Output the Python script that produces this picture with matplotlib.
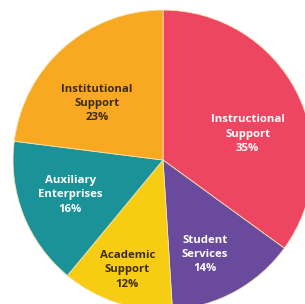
import numpy as np
import matplotlib.pyplot as plt

# Daten
labels = ["Instructional\nSupport", "Student\nServices", "Academic\nSupport",
          "Auxiliary\nEnterprises", "Institutional\nSupport"]
shares = [35, 14, 12, 16, 23]
colors = ["#EE4662", "#6A4A9C", "#F6CD12", "#1B9298", "#F8A821"]
text_colors = ["white", "white", "#3d2b0c", "white", "#3d2b0c"]

# Label-Positionen (Radius, Winkelversatz in Grad) relativ zur Sektormitte
label_r = [0.59, 0.69, 0.77, 0.66, 0.58]
label_dang = [-10, -5, 0, -1, 8]

fig = plt.figure(figsize=(3.05, 3.04), dpi=100)
ax = fig.add_axes([0, 0, 1, 1])

wedges, _ = ax.pie(shares, colors=colors, startangle=90, counterclock=False,
                   radius=1.0, wedgeprops=dict(linewidth=0.6, edgecolor="#f3e3b0"))

for w, lab, val, tc, r, da in zip(wedges, labels, shares, text_colors, label_r, label_dang):
    mid = np.deg2rad((w.theta1 + w.theta2) / 2 + da)
    ax.text(r * np.cos(mid), r * np.sin(mid), f"{lab}\n{val}%",
            ha="center", va="center", fontsize=8.2, fontweight="bold",
            family="Open Sans", color=tc, linespacing=1.4)

ax.set_xlim(-1.087, 0.947)
ax.set_ylim(-0.96, 1.067)
ax.set_aspect("auto")
ax.axis("off")

fig.savefig("out.png", dpi=100, facecolor="white")
